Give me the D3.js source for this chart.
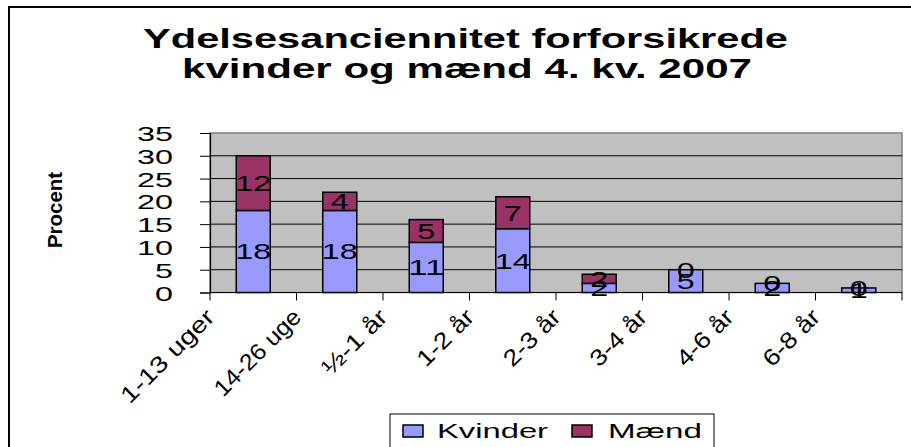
<!DOCTYPE html>
<html><head><meta charset="utf-8">
<script src="https://cdn.jsdelivr.net/npm/d3@7"></script>
<style>
html,body{margin:0;padding:0;background:#fff;}
svg{display:block;font-family:"Liberation Sans",Arial,sans-serif;}
</style></head>
<body>
<svg id="c" width="911" height="447"></svg>
<script>
const categories = ["1-13 uger","14-26 uge","\u00BD-1 \u00E5r","1-2 \u00E5r","2-3 \u00E5r","3-4 \u00E5r","4-6 \u00E5r","6-8 \u00E5r"];
const kvinder = [18,18,11,14,2,5,2,1];
const maend   = [12,4,5,7,2,0,0,0];
const seriesNames = ["Kvinder","M\u00E6nd"];
const seriesColors = ["#9999FF","#993366"];
const yTicks = [0,5,10,15,20,25,30,35];
const titleLines = ["Ydelsesanciennitet forforsikrede","kvinder og m\u00E6nd 4. kv. 2007"];
const yLabel = "Procent";

const svg = d3.select("#c");
const L = 210, R = 902, T = 133, B = 292.5;

// outer border
svg.append("rect").attr("x",9).attr("y",7).attr("width",1000).attr("height",1000)
  .attr("fill","#fff").attr("stroke","#000").attr("stroke-width",2);

// title
const tLen = [645, 570];
titleLines.forEach((t,i)=>{
  svg.append("text").attr("x",(i==0?143:182)).attr("y",i==0?48:78)
    .attr("font-size",27).attr("font-weight","bold")
    .attr("textLength",tLen[i]).attr("lengthAdjust","spacingAndGlyphs")
    .text(t);
});

const x = d3.scaleBand().domain(categories).range([L,R]).paddingInner(0).paddingOuter(0);
const y = d3.scaleLinear().domain([0,35]).range([B,T]);

// plot bg
svg.append("rect").attr("x",L).attr("y",T).attr("width",R-L).attr("height",B-T)
  .attr("fill","#C0C0C0").attr("stroke","#808080").attr("stroke-width",1.5);

// gridlines
svg.append("g").selectAll("line").data(yTicks.filter(v=>v>0&&v<35)).join("line")
  .attr("x1",L).attr("x2",R).attr("y1",d=>y(d)).attr("y2",d=>y(d))
  .attr("stroke","#000").attr("stroke-width",1);

// y axis
const yAxis = svg.append("g").attr("transform",`translate(${L},0)`)
  .call(d3.axisLeft(y).tickValues(yTicks).tickSize(10).tickPadding(27).tickFormat(d3.format("d")));
yAxis.select(".domain").attr("stroke","#000").attr("stroke-width",1.2);
yAxis.selectAll(".tick line").attr("stroke","#000");
yAxis.selectAll(".tick text").attr("font-size",21).attr("fill","#000")
  .attr("font-family","'Liberation Sans',Arial,sans-serif")
  .attr("dy","0.36em")
  .attr("textLength",d=>String(d).length*18).attr("lengthAdjust","spacingAndGlyphs");

// y label
svg.append("text").attr("transform","translate(62,210) rotate(-90)")
  .attr("text-anchor","middle").attr("font-size",20).attr("font-weight","bold")
  .attr("textLength",76).attr("lengthAdjust","spacingAndGlyphs").text(yLabel);

// stacked bars
const rows = categories.map((c,i)=>({cat:c, Kvinder:kvinder[i], "M\u00E6nd":maend[i]}));
const stack = d3.stack().keys(seriesNames)(rows);
const bw = 34;
const g = svg.append("g");
stack.forEach((s,si)=>{
  g.append("g").selectAll("rect").data(s).join("rect")
    .attr("x",d=>x(d.data.cat)+x.bandwidth()/2-bw/2)
    .attr("width",bw)
    .attr("y",d=>y(d[1]))
    .attr("height",d=>y(d[0])-y(d[1]))
    .attr("fill",seriesColors[si]).attr("stroke","#000").attr("stroke-width",1.5);
});
// data labels
stack.forEach((s,si)=>{
  g.append("g").selectAll("text").data(s).join("text")
    .attr("x",d=>x(d.data.cat)+x.bandwidth()/2)
    .attr("y",d=>(y(d[0])+y(d[1]))/2)
    .attr("dy","0.36em").attr("text-anchor","middle").attr("font-size",22)
    .attr("textLength",d=>String(d[1]-d[0]).length*18).attr("lengthAdjust","spacingAndGlyphs")
    .text(d=>d[1]-d[0]);
});

// x axis
svg.append("line").attr("x1",L).attr("x2",R).attr("y1",B).attr("y2",B).attr("stroke","#000").attr("stroke-width",1.2);
const bounds = categories.map(c=>x(c)).concat([R]);
svg.append("g").selectAll("line").data(bounds).join("line")
  .attr("x1",d=>d).attr("x2",d=>d).attr("y1",B).attr("y2",B+8).attr("stroke","#000");

const labLen = [122,112,82,70,70,70,70,70];
svg.append("g").selectAll("text").data(categories).join("text")
  .attr("transform",d=>`translate(${x(d)+6},${B+26}) rotate(-45)`)
  .attr("text-anchor","end").attr("font-size",23)
  .attr("textLength",(d,i)=>labLen[i]).attr("lengthAdjust","spacingAndGlyphs")
  .text(d=>d);

// legend
const lg = svg.append("g");
lg.append("rect").attr("x",390).attr("y",414).attr("width",324).attr("height",40)
  .attr("fill","#fff").attr("stroke","#000").attr("stroke-width",1);
const lx = [403,572], tx=[437,608], tl=[111,94];
seriesNames.forEach((n,i)=>{
  lg.append("rect").attr("x",lx[i]).attr("y",425).attr("width",20).attr("height",12)
    .attr("fill",seriesColors[i]).attr("stroke","#000").attr("stroke-width",1.5);
  lg.append("text").attr("x",tx[i]).attr("y",438).attr("font-size",20)
    .attr("textLength",tl[i]).attr("lengthAdjust","spacingAndGlyphs").text(n);
});
</script>
</body></html>
